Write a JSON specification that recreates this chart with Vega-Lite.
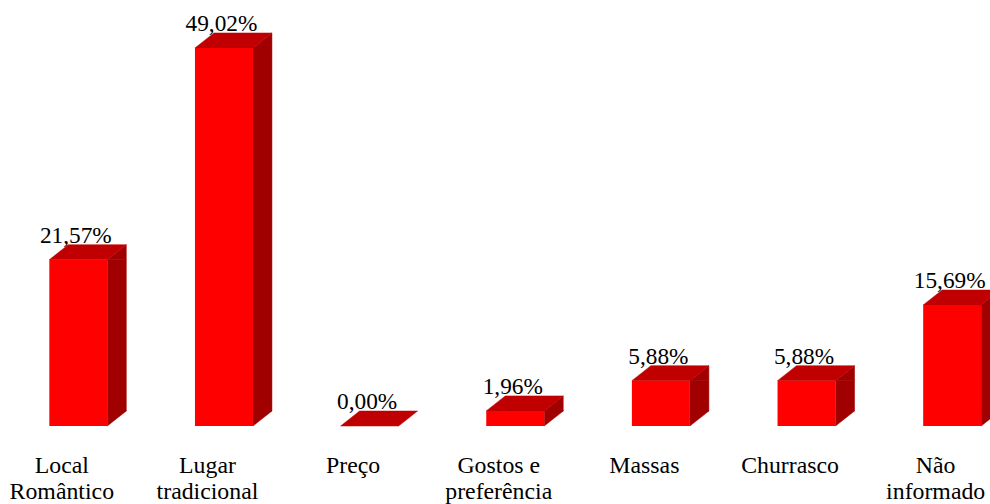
{"$schema":"https://vega.github.io/schema/vega-lite/v6.json","width":990,"height":504,"padding":0,"autosize":{"type":"none"},"background":"white","view":{"stroke":null},"data":{"values":[{"categoria":"Local\nRomântico","valor":21.57,"rotulo":"21,57%"},{"categoria":"Lugar\ntradicional","valor":49.02,"rotulo":"49,02%"},{"categoria":"Preço","valor":0,"rotulo":"0,00%"},{"categoria":"Gostos e\npreferência","valor":1.96,"rotulo":"1,96%"},{"categoria":"Massas","valor":5.88,"rotulo":"5,88%"},{"categoria":"Churrasco","valor":5.88,"rotulo":"5,88%"},{"categoria":"Não\ninformado","valor":15.69,"rotulo":"15,69%"}]},"encoding":{"x":{"field":"categoria","type":"nominal","sort":["Local\nRomântico","Lugar\ntradicional","Preço","Gostos e\npreferência","Massas","Churrasco","Não\ninformado"],"scale":{"range":[5.5,1025],"paddingInner":0,"paddingOuter":0},"axis":{"title":null,"domain":false,"ticks":false,"labelAngle":0,"labelFont":"Liberation Serif","labelFontSize":23.8,"labelColor":"black","offset":-78,"labelPadding":27.5,"labelOffset":-16.5,"labelLineHeight":26,"labelLimit":0,"labelOverlap":false,"labelExpr":"split(datum.value,'\\n')"}},"y":{"field":"valor","type":"quantitative","scale":{"domain":[0,55.24],"range":[426,0],"nice":false},"axis":null}},"layer":[{"transform":[{"filter":"datum.valor>0"}],"mark":{"type":"bar","color":"#a00000","stroke":"#a00000","strokeWidth":0.5,"width":19,"xOffset":38.5,"y2Offset":-15},"encoding":{"y2":{"datum":0}}},{"transform":[{"filter":"datum.valor>0"}],"mark":{"type":"point","filled":true,"opacity":1,"stroke":"#a00000","strokeWidth":0.5,"size":4,"color":"#a00000","shape":"M29 0 L48 -15 L48 0 Z"}},{"transform":[{"filter":"datum.valor>0"}],"mark":{"type":"point","filled":true,"opacity":1,"stroke":"#a00000","strokeWidth":0.5,"size":4,"color":"#a00000","shape":"M29 0 L48 -15 L29 -15 Z"},"encoding":{"y":{"datum":0,"type":"quantitative"}}},{"mark":{"type":"point","filled":true,"opacity":1,"stroke":"#c00000","strokeWidth":0.5,"size":4,"color":"#c00000","shape":"M-29 0 L29 0 L48 -15 L-10 -15 Z"}},{"mark":{"type":"bar","color":"#ff0000","width":58},"encoding":{"y2":{"datum":0}}},{"mark":{"type":"text","font":"Liberation Serif","fontSize":23.3,"color":"black","baseline":"alphabetic","dx":-2.5,"dy":-17},"encoding":{"text":{"field":"rotulo"}}}]}
